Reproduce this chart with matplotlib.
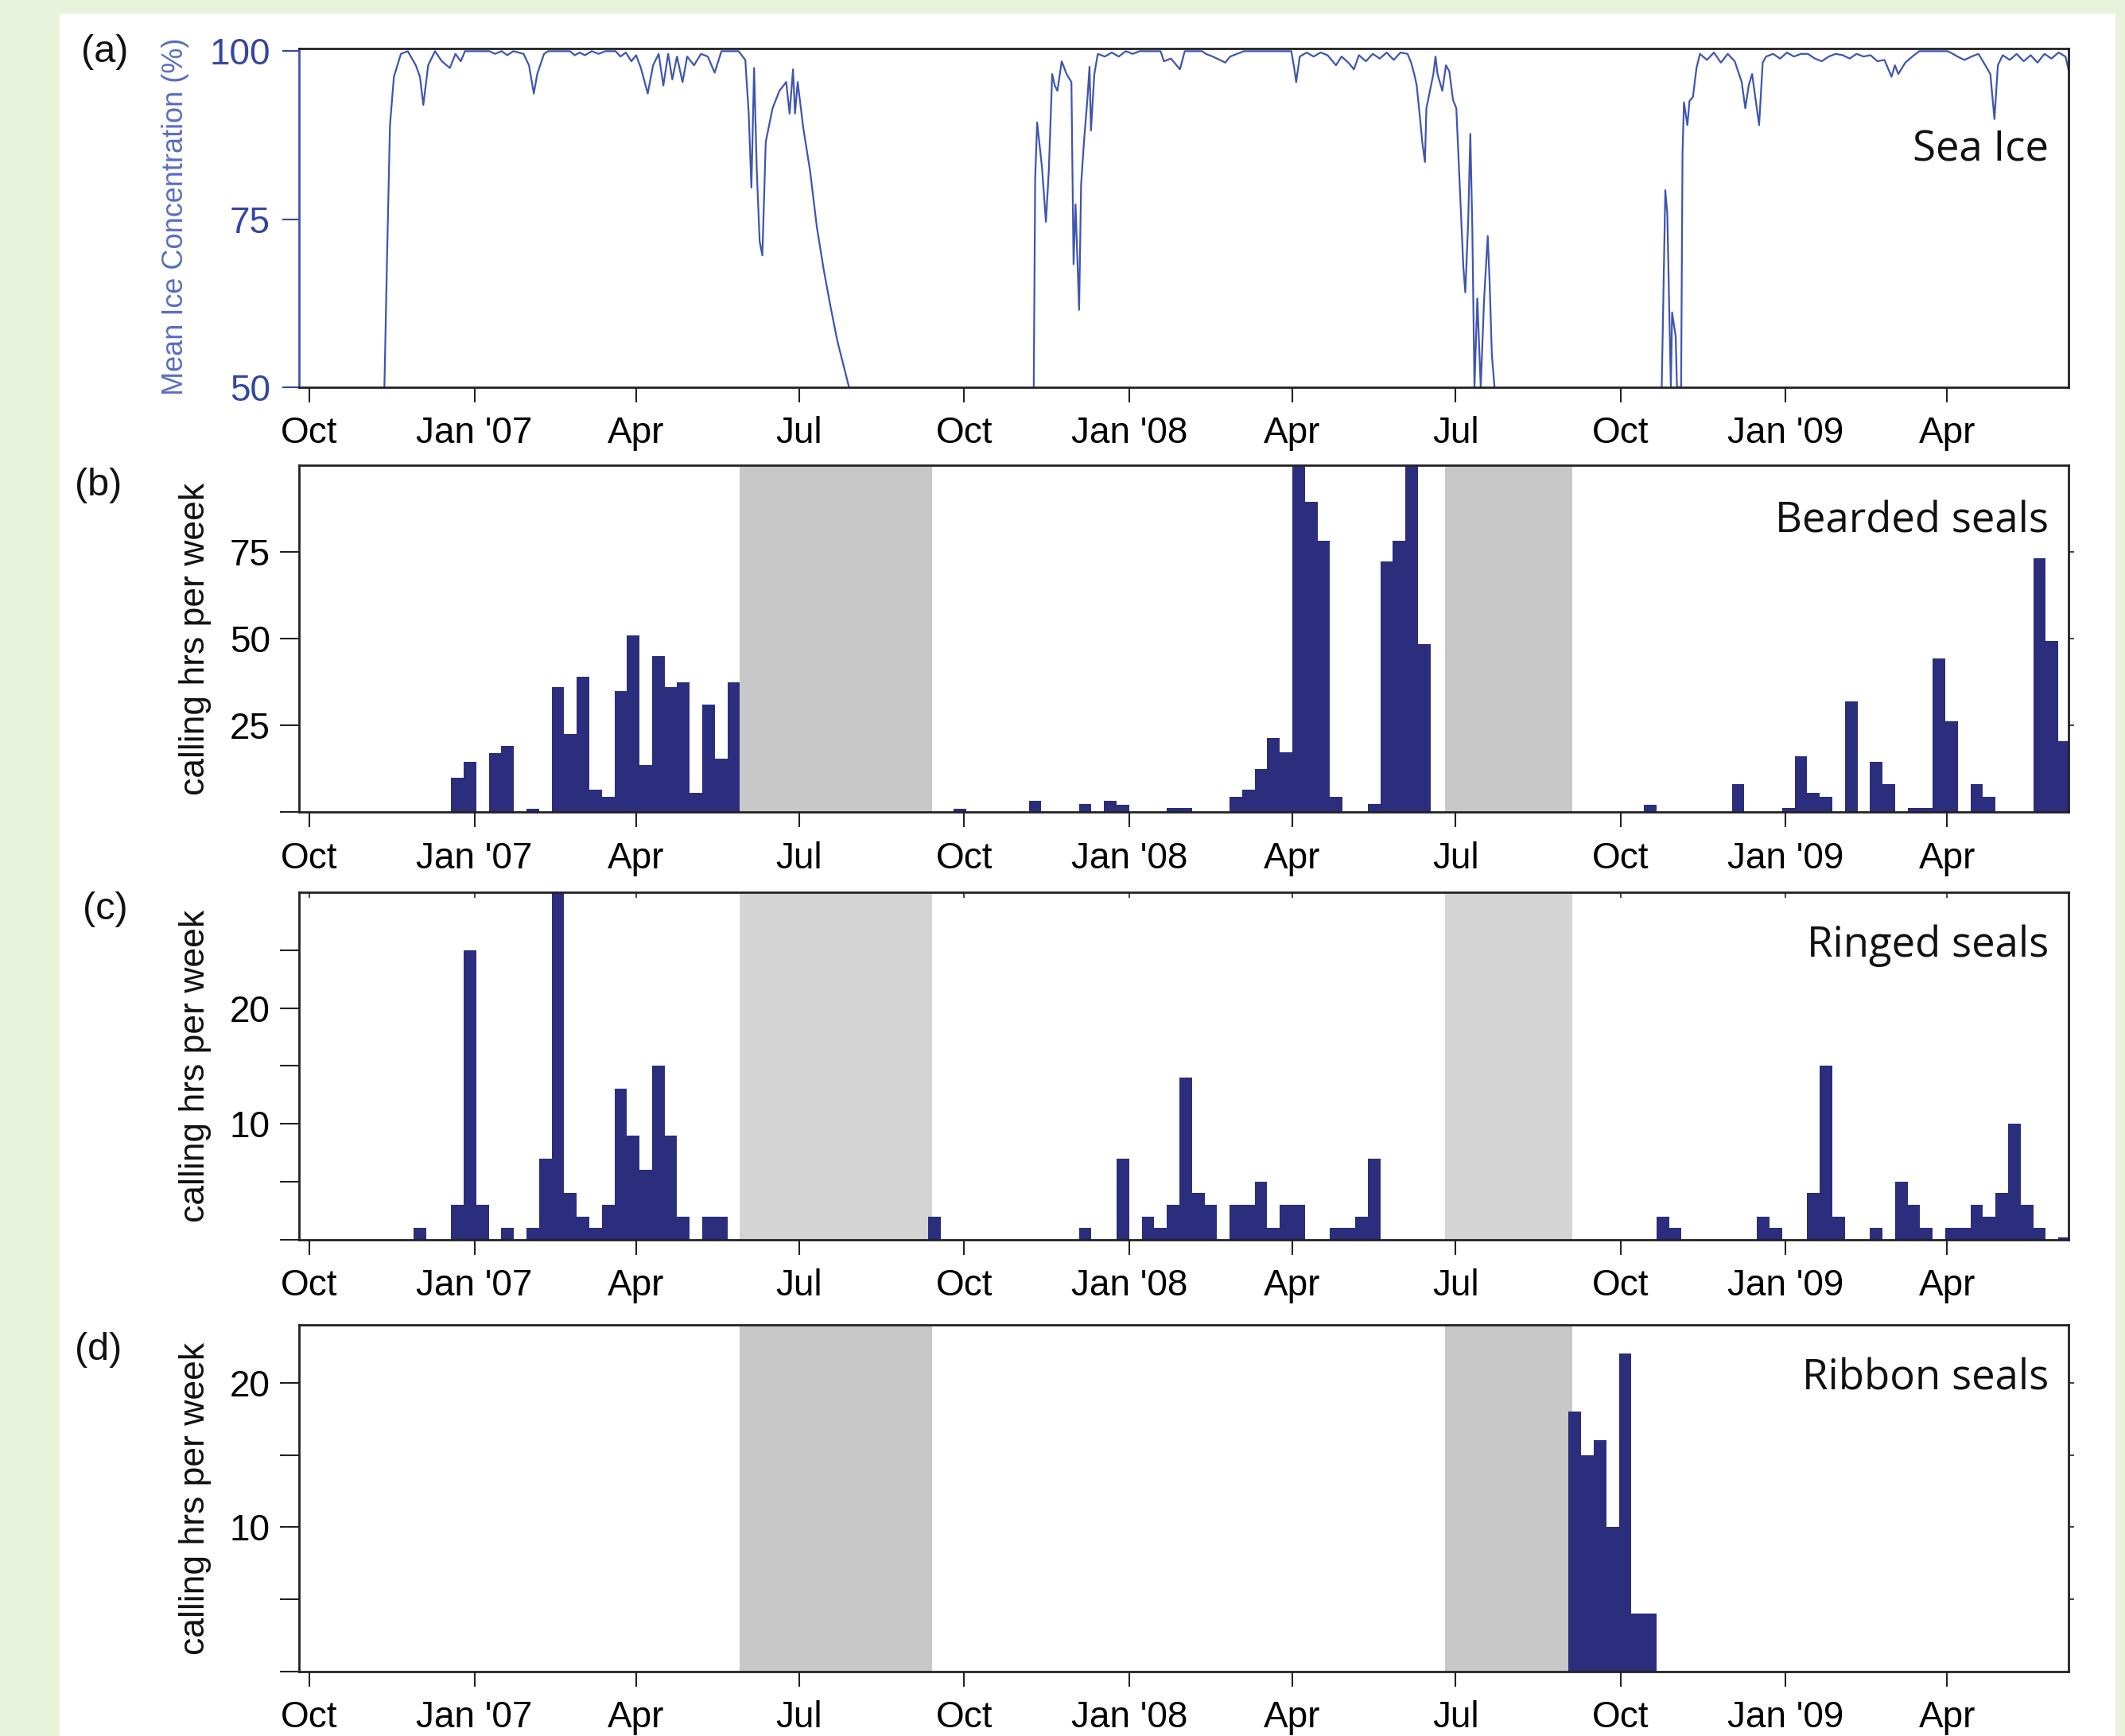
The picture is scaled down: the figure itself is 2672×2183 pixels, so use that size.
import numpy as np
import matplotlib
matplotlib.use("Agg")
import matplotlib.pyplot as plt
import matplotlib.dates as mdates
from matplotlib.patches import Rectangle

# ---------------- data ----------------
day0 = "2006-10-01"          # origin of the sea-ice day counter
week0 = "2006-09-26"         # start date of week index 0

tick_dates = ["2006-10-01", "2007-01-01", "2007-04-01", "2007-07-01", "2007-10-01",
              "2008-01-01", "2008-04-01", "2008-07-01", "2008-10-01", "2009-01-01",
              "2009-04-01"]
tick_labels = ["Oct", "Jan '07", "Apr", "Jul", "Oct", "Jan '08", "Apr", "Jul", "Oct",
               "Jan '09", "Apr"]

no_data_spans = [("2007-05-29", "2007-09-13"), ("2008-06-25", "2008-09-04")]

# daily mean ice concentration (%) : day since 2006-10-01, value (values <50 are off-scale)
ice_day = [-6, 41.8, 43.3, 44.9, 47.1, 51.0, 54.8, 59.3, 61.6, 63.5, 66.2, 70.0, 73.8, 78.3,
           81.4, 84.4, 86.7, 100.4, 103.4, 107.2, 110.3, 113.7, 119.4, 122.4, 125.1, 127.0,
           130.8, 133.1, 145.2, 147.9, 150.6, 153.6, 157.4, 161.2, 165.0, 170.7, 173.4,
           176.4, 179.5, 182.1, 184.8, 188.6, 191.6, 194.7, 197.3, 200.0, 202.3, 204.9,
           208.0, 210.6, 214.4, 218.3, 222.1, 225.9, 229.7, 239.2, 243.0, 244.9, 246.4,
           247.9, 249.4, 251.0, 252.5, 254.4, 258.2, 262.0, 265.8, 267.7, 269.6, 270.7,
           272.2, 275.3, 279.1, 282.9, 286.7, 290.5, 294.3, 300.8, 310, 395,
           403.8, 404.6, 405.7, 408.4, 410.6, 412.2, 414.1, 415.5, 417.0, 419.4, 422.1,
           424.8, 426.0, 427.1, 429.1, 430.2, 431.8, 433.7, 434.9, 435.7, 437.6, 439.5,
           443.4, 447.3, 451.2, 455.1, 459.0, 462.8, 474.5, 476.4, 480.3, 485.3, 488.0,
           497.7, 499.7, 503.6, 507.5, 510.6, 513.3, 517.2, 521.0, 547.4, 549.0, 550.1,
           552.1, 556.0, 559.8, 563.7, 567.6, 572.3, 575.4, 579.2, 582.3, 585.1, 589.0,
           592.8, 596.7, 600.6, 604.5, 608.3, 612.2, 614.2, 616.1, 617.3, 619.2, 620.4,
           621.9, 622.7, 625.0, 626.6, 627.8, 628.9, 631.6, 633.6, 635.5, 637.5, 639.4,
           641.3, 643.3, 644.4, 646.0, 647.2, 648.3, 649.5, 651.1, 653.0, 654.9, 656.9,
           658.0, 659.2, 660.7, 670, 745,
           753.9, 755.9, 757.0, 757.8, 759.0, 759.7, 761.7, 762.4, 764.7, 765.5, 766.3,
           768.2, 769.4, 771.3, 773.3, 775.2, 779.1, 783.0, 786.9, 790.7, 794.6, 798.5,
           800.5, 802.4, 804.3, 808.2, 810.2, 812.1, 816.0, 819.9, 823.7, 827.6, 831.5,
           835.4, 839.3, 843.1, 847.0, 850.9, 854.8, 858.7, 862.5, 866.4, 870.3, 874.2,
           878.1, 882.0, 883.9, 885.8, 889.7, 893.6, 897.5, 913.0, 914.9, 918.8, 922.7,
           926.6, 930.5, 934.3, 937.1, 939.4, 941.3, 944.0, 947.9, 951.8, 955.7, 959.6,
           963.4, 967.3, 971.2, 975.1, 979.0, 980.9]
ice_conc = [30, 50, 69.6, 89.0, 96.2, 99.6, 100, 97.9, 96.2, 92.0, 97.9, 100, 98.5, 97.5,
            99.6, 98.5, 100, 100, 99.6, 100, 99.4, 100, 99.6, 97.9, 93.7, 96.6,
            99.6, 100, 100, 99.4, 99.8, 99.4, 100, 99.6, 100, 100, 99.2,
            99.8, 98.5, 99.4, 97.5, 93.7, 97.9, 99.6, 94.9, 99.6, 95.8, 99.2,
            95.4, 99.2, 97.9, 99.6, 99.2, 96.8, 100, 100, 98.7, 90.7, 79.7,
            97.5, 82.2, 71.7, 69.6, 86.5, 91.5, 94.1, 95.4, 90.7, 97.3, 90.7,
            95.4, 88.6, 82.2, 73.8, 67.5, 62.0, 56.9, 50, 30, 30,
            50, 81.0, 89.4, 82.7, 74.6, 82.2, 96.6, 94.9, 94.1, 98.5, 96.6,
            95.4, 68.3, 77.2, 61.5, 80.1, 86.5, 92.8, 97.7, 88.2, 96.6, 99.6,
            99.2, 99.8, 99.2, 100, 99.6, 100, 100, 98.5, 98.9, 97.3, 100,
            100, 99.6, 99.2, 98.7, 98.3, 99.2, 99.6, 100, 100, 97.5, 95.4,
            99.2, 99.8, 99.2, 99.8, 99.4, 97.9, 99.2, 98.3, 97.3, 99.4, 98.5,
            99.6, 98.9, 99.8, 98.7, 99.8, 99.6, 98.3, 96.4, 94.9, 89.9, 86.5,
            83.5, 91.5, 94.5, 96.6, 99.2, 96.6, 94.1, 97.9, 97.0, 92.8, 91.5,
            80.1, 67.9, 64.1, 74.6, 87.7, 73.8, 50, 63.2, 50, 63.2, 72.5,
            65.3, 54.8, 50, 30, 30,
            50, 79.3, 75.9, 65.3, 50, 61.1, 57.5, 50, 50, 84.8, 92.4,
            89.0, 92.6, 93.2, 97.5, 99.6, 98.7, 99.8, 98.3, 99.6, 98.5, 95.4,
            91.5, 94.9, 96.6, 89.0, 98.3, 99.2, 99.6, 98.9, 99.8, 99.2, 99.6,
            99.6, 98.9, 98.5, 99.2, 99.6, 99.4, 98.9, 99.6, 99.2, 99.4, 98.5,
            98.7, 96.2, 97.9, 96.6, 98.3, 99.2, 100, 100, 99.8, 99.2, 98.7,
            99.2, 99.6, 97.9, 96.6, 89.9, 97.9, 99.4, 98.7, 99.6, 98.5, 99.4,
            98.3, 99.6, 98.9, 99.8, 99.2, 97.0]

# weekly calling hours (week index counted from week0)
bearded_weeks = [12, 13, 15, 16, 18, 20, 21, 22, 23, 24, 25, 26, 27, 28, 29, 30, 31, 32, 33, 34,
                 52, 58, 62, 64, 65, 69, 70,
                 74, 75, 76, 77, 78, 79, 80, 81, 82, 85, 86, 87, 88, 89,
                 107, 114, 118, 119, 120, 121, 123, 125, 126, 128, 129, 130, 131, 133, 134,
                 138, 139, 140]
bearded_hours = [10, 14.5, 17, 19, 1, 36, 22.5, 39, 6.5, 4.5, 35, 51, 13.5, 45, 36, 37.5, 5.5, 31, 15.5, 37.5,
                 1, 3.3, 2.3, 3.3, 2.2, 1.2, 1.2,
                 4.4, 6.5, 12.5, 21.5, 17.3, 100, 89.5, 78.3, 4.4, 2.3, 72.3, 78.3, 100, 48.5,
                 2.2, 8.1, 1.2, 16.2, 5.5, 4.4, 32, 14.6, 8.1, 1.2, 1.2, 44.4, 26.2, 8.1, 4.4,
                 73.2, 49.3, 20.5]

ringed_weeks = [9, 12, 13, 14, 16, 18, 19, 20, 21, 22, 23, 24, 25, 26, 27, 28, 29, 30, 32, 33,
                50, 62, 65, 67, 68, 69, 70, 71, 72, 74, 75, 76, 77, 78, 79, 82, 83, 84, 85,
                108, 109, 116, 117, 120, 121, 122, 125, 127, 128, 129, 131, 132, 133, 134,
                135, 136, 137, 138, 140]
ringed_hours = [1, 3, 25, 3, 1, 1, 7, 30, 4, 2, 1, 3, 13, 9, 6, 15, 9, 2, 2, 2,
                2, 1, 7, 2, 1, 3, 14, 4, 3, 3, 3, 5, 1, 3, 3, 1, 1, 2, 7,
                2, 1, 2, 1, 4, 15, 2, 1, 5, 3, 1, 1, 1, 3, 2,
                4, 10, 3, 1, 0.2]

ribbon_weeks = [101, 102, 103, 104, 105, 106, 107]
ribbon_hours = [18, 15, 16, 10, 22, 4, 4]

# ---------------- styling ----------------
W, H = 2672, 2183
BG_GREEN = "#E9F2DA"
NAVY = "#2B2D7D"
ICE_BLUE = "#3F55B0"
TICK_BLUE = "#3446A2"
LABEL_BLUE = "#5A6DC0"
SPINE = "#222222"
TICK_FONT = "Liberation Sans"
TITLE_FONT = "Open Sans"

plt.rcParams["font.family"] = ["Liberation Sans", "DejaVu Sans"]

fig = plt.figure(figsize=(W / 100, H / 100), dpi=100)
fig.patch.set_facecolor(BG_GREEN)
fig.add_artist(Rectangle((75 / W, 0), (2660 - 75) / W, 1 - 17 / H, transform=fig.transFigure,
                         facecolor="white", edgecolor="none", zorder=0))


def rect(left, top, right, bottom):
    return [left / W, 1 - bottom / H, (right - left) / W, (bottom - top) / H]


t0 = mdates.date2num(np.datetime64(day0))
w0 = mdates.date2num(np.datetime64(week0))
xlim = (t0 - 5.8, t0 + 980.7)
tick_pos = [mdates.date2num(np.datetime64(d)) for d in tick_dates]


def style_axes(ax, left_color=SPINE):
    for side, sp in ax.spines.items():
        sp.set_color(SPINE)
        sp.set_linewidth(2.0)
        sp.set_zorder(5)
    ax.spines["left"].set_color(left_color)
    ax.set_xlim(*xlim)
    ax.set_xticks(tick_pos)
    ax.set_xticklabels(tick_labels, fontsize=33, family=TICK_FONT)
    ax.tick_params(axis="x", direction="out", length=14, width=1.5, pad=12, color=SPINE)
    ax.tick_params(axis="y", direction="out", length=17, width=1.5, pad=9, color=SPINE)


def add_spans(ax, color):
    for a, b in no_data_spans:
        ax.axvspan(mdates.date2num(np.datetime64(a)), mdates.date2num(np.datetime64(b)),
                   color=color, lw=0, zorder=1)


def add_bars(ax, weeks, hours):
    x = w0 + 7 * np.asarray(weeks, dtype=float)
    ax.bar(x, hours, width=7, align="edge", color=NAVY, linewidth=0, zorder=3)


# ---- panel (a) sea ice ----
axa = fig.add_axes(rect(376, 61.4, 2601, 486.8))
axa.plot(t0 + np.asarray(ice_day), ice_conc, color=ICE_BLUE, lw=1.6, zorder=3)
style_axes(axa, left_color=ICE_BLUE)
axa.set_ylim(50, 100.35)
axa.set_yticks([50, 75, 100])
axa.set_yticklabels(["50", "75", "100"], fontsize=33, family=TICK_FONT, color=TICK_BLUE)
axa.tick_params(axis="y", colors=TICK_BLUE, length=15, pad=11)
axa.text(0.9888, 0.700, "Sea Ice", transform=axa.transAxes, ha="right", va="center",
         fontsize=38, family=TITLE_FONT, color="#111111")

# ---- panel (b) bearded ----
axb = fig.add_axes(rect(376, 585, 2601, 1021.4))
add_spans(axb, "#C8C8C8")
add_bars(axb, bearded_weeks, bearded_hours)
style_axes(axb)
axb.set_ylim(0, 100)
axb.set_yticks([0, 25, 50, 75])
axb.set_yticklabels(["", "25", "50", "75"], fontsize=33, family=TICK_FONT)
axb.text(0.9888, 0.837, "Bearded seals", transform=axb.transAxes, ha="right", va="center",
         fontsize=38, family=TITLE_FONT, color="#111111")
sb = axb.secondary_yaxis("right")
sb.set_yticks([25, 50, 75])
sb.set_yticklabels([])
sb.tick_params(length=5, width=1.2, color=SPINE)
sb.spines["right"].set_visible(False)

# ---- panel (c) ringed ----
axc = fig.add_axes(rect(376, 1122, 2601, 1558.7))
add_spans(axc, "#D4D4D4")
add_bars(axc, ringed_weeks, ringed_hours)
style_axes(axc)
axc.set_ylim(0, 30)
axc.set_yticks([0, 5, 10, 15, 20, 25])
axc.set_yticklabels(["", "", "10", "", "20", ""], fontsize=33, family=TICK_FONT)
axc.text(0.9888, 0.847, "Ringed seals", transform=axc.transAxes, ha="right", va="center",
         fontsize=38, family=TITLE_FONT, color="#111111")
sc = axc.secondary_xaxis("top")
sc.set_xticks(tick_pos)
sc.set_xticklabels([])
sc.tick_params(direction="in", length=5, width=1.2, color=SPINE)
sc.spines["top"].set_visible(False)

# ---- panel (d) ribbon ----
axd = fig.add_axes(rect(376, 1666, 2601, 2102))
add_spans(axd, "#C8C8C8")
add_bars(axd, ribbon_weeks, ribbon_hours)
style_axes(axd)
axd.set_ylim(0, 24)
axd.set_yticks([0, 5, 10, 15, 20])
axd.set_yticklabels(["", "", "10", "", "20"], fontsize=33, family=TICK_FONT)
axd.text(0.9888, 0.844, "Ribbon seals", transform=axd.transAxes, ha="right", va="center",
         fontsize=38, family=TITLE_FONT, color="#111111")
sd = axd.secondary_yaxis("right")
sd.set_yticks([5, 10, 15, 20])
sd.set_yticklabels([])
sd.tick_params(length=5, width=1.2, color=SPINE)
sd.spines["right"].set_visible(False)

# ---- y labels and panel letters ----
fig.text(220 / W, 1 - 272 / H, "Mean Ice Concentration (%)", rotation=90, ha="center",
         va="center", fontsize=26, color=LABEL_BLUE, family=TICK_FONT)
for yc in (803, 1340, 1884):
    fig.text(246 / W, 1 - yc / H, "calling hrs per week", rotation=90, ha="center",
             va="center", fontsize=32, color="#111111", family=TICK_FONT)

for lab, xc, yc in (("(a)", 132, 66), ("(b)", 124, 610), ("(c)", 132, 1144), ("(d)", 124, 1697)):
    fig.text(xc / W, 1 - yc / H, lab, ha="center", va="center", fontsize=35,
             color="#111111", family=TICK_FONT)

fig.savefig("out.png", dpi=100, facecolor=fig.get_facecolor())
